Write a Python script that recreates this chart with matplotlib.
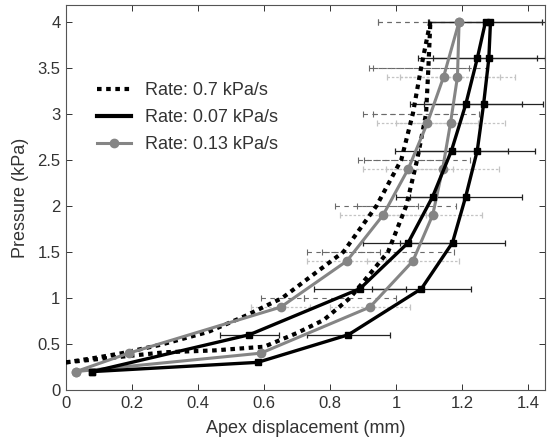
import numpy as np
import matplotlib
matplotlib.use("Agg")
import matplotlib.pyplot as plt

plt.rcParams['font.family'] = ['Liberation Sans', 'DejaVu Sans']

# ---- Rate 0.7 kPa/s (dotted) ----
r07_load_x = [0.0, 0.3, 0.45, 0.6, 0.7, 0.78, 0.86, 0.975, 1.03, 1.063, 1.09, 1.097, 1.103]
r07_load_p = [0.3, 0.41, 0.43, 0.47, 0.62, 0.76, 1.0, 1.5, 2.0, 2.5, 3.0, 3.5, 4.0]
r07_load_err = [0, 0, 0, 0, 0, 0, 0.14, 0.2, 0.15, 0.16, 0.16, 0.18, 0.16]
r07_unload_x = [1.103, 1.075, 1.05, 1.015, 0.94, 0.84, 0.655, 0.54, 0.43, 0.285, 0.17, 0.09, 0.0]
r07_unload_p = [4.0, 3.5, 3.0, 2.5, 2.0, 1.5, 1.0, 0.8, 0.63, 0.49, 0.40, 0.35, 0.3]
r07_unload_err = [0.16, 0.145, 0.15, 0.13, 0.125, 0.11, 0.065, 0, 0, 0, 0, 0, 0]

# ---- Rate 0.07 kPa/s (black, squares) ----
r007_load_x = [0.08, 0.58, 0.855, 1.076, 1.17, 1.21, 1.245, 1.264, 1.28, 1.285]
r007_load_p = [0.2, 0.3, 0.6, 1.1, 1.6, 2.1, 2.6, 3.1, 3.6, 4.0]
r007_load_err = [0, 0, 0.125, 0.15, 0.16, 0.17, 0.175, 0.18, 0.17, 0.19]
r007_unload_x = [1.27, 1.245, 1.21, 1.167, 1.11, 1.036, 0.89, 0.555, 0.08]
r007_unload_p = [4.0, 3.6, 3.1, 2.6, 2.1, 1.6, 1.1, 0.6, 0.2]
r007_unload_err = [0.17, 0.18, 0.17, 0.17, 0.11, 0.136, 0.14, 0.09, 0]

# ---- Rate 0.13 kPa/s (gray, circles) ----
r013_p = [0.2, 0.4, 0.9, 1.4, 1.9, 2.4, 2.9, 3.4, 4.0]
r013_load_x = [0.03, 0.59, 0.92, 1.05, 1.11, 1.14, 1.164, 1.185, 1.19]
r013_load_err = [0, 0, 0.12, 0.14, 0.15, 0.17, 0.166, 0.175, 0]
r013_unload_x = [0.03, 0.19, 0.65, 0.85, 0.96, 1.036, 1.094, 1.143, 1.19]
r013_unload_err = [0, 0, 0.09, 0.12, 0.13, 0.136, 0.154, 0.17, 0]

legend_labels = ['Rate: 0.7 kPa/s', 'Rate: 0.07 kPa/s', 'Rate: 0.13 kPa/s']

x_ticks = [0, 0.2, 0.4, 0.6, 0.8, 1.0, 1.2, 1.4]
x_ticklabels = ['0', '0.2', '0.4', '0.6', '0.8', '1', '1.2', '1.4']
y_ticks = [0, 0.5, 1, 1.5, 2, 2.5, 3, 3.5, 4]
y_ticklabels = ['0', '0.5', '1', '1.5', '2', '2.5', '3', '3.5', '4']

fig = plt.figure(figsize=(5.48, 4.43), dpi=100)
ax = fig.add_axes([66 / 548, 1 - 390 / 443, 479 / 548, 385 / 443])

GRAY = '#858585'
TXT = '#333333'


def bars(x, p, err, color, ls, lw):
    x = np.asarray(x, float)
    p = np.asarray(p, float)
    err = np.asarray(err, float)
    m = err > 0
    eb = ax.errorbar(x[m], p[m], xerr=err[m], fmt='none', ecolor=color,
                     elinewidth=lw, capsize=2.5, capthick=lw, zorder=1)
    for lc in eb[2]:
        lc.set_linestyle(ls)


# error bars
bars(r013_load_x, r013_p, r013_load_err, '#c4c4c4', (0, (2, 1.5)), 0.9)
bars(r013_unload_x, r013_p, r013_unload_err, '#c4c4c4', (0, (2, 1.5)), 0.9)
bars(r07_load_x, r07_load_p, r07_load_err, '#6a6a6a', (0, (4, 4)), 0.8)
bars(r07_unload_x, r07_unload_p, r07_unload_err, '#6a6a6a', (0, (4, 4)), 0.8)
bars(r007_load_x, r007_load_p, r007_load_err, '#222222', '-', 0.9)
bars(r007_unload_x, r007_unload_p, r007_unload_err, '#222222', '-', 0.9)

# curves
dot_ls = (0, (1.1, 1.1))
l1, = ax.plot(r07_load_x, r07_load_p, color='black', lw=3, ls=dot_ls, zorder=3)
ax.plot(r07_unload_x, r07_unload_p, color='black', lw=3, ls=dot_ls, zorder=3)
l3, = ax.plot(r013_load_x, r013_p, color=GRAY, lw=2.2, marker='o', ms=6,
              mfc=GRAY, mec=GRAY, zorder=4)
ax.plot(r013_unload_x, r013_p, color=GRAY, lw=2.2, marker='o', ms=6,
        mfc=GRAY, mec=GRAY, zorder=4)
l2, = ax.plot(r007_load_x, r007_load_p, color='black', lw=2.4, marker='s', ms=5,
              mfc='black', mec='black', zorder=5)
ax.plot(r007_unload_x, r007_unload_p, color='black', lw=2.4, marker='s', ms=5,
        mfc='black', mec='black', zorder=5)

ax.set_xlim(0, 1.45)
ax.set_ylim(0, 4.18)
ax.set_xticks(x_ticks)
ax.set_xticklabels(x_ticklabels)
ax.set_yticks(y_ticks)
ax.set_yticklabels(y_ticklabels)
ax.tick_params(direction='in', top=True, right=True, length=4, width=0.7,
               labelsize=12, colors=TXT, pad=4)
for s in ax.spines.values():
    s.set_color('#555555')
    s.set_linewidth(0.8)

ax.set_xlabel('Apex displacement (mm)', fontsize=13, color=TXT, labelpad=7)
ax.set_ylabel('Pressure (kPa)', fontsize=13, color=TXT, labelpad=6)

leg = ax.legend([l1, l2, l3], legend_labels, loc='upper left',
                bbox_to_anchor=(0.065, 0.80), frameon=False, fontsize=13,
                handlelength=1.85, handletextpad=0.8, labelspacing=0.55,
                borderpad=0, borderaxespad=0)
leg.legend_handles[1].set_marker('None')
leg.legend_handles[1].set_linewidth(3)
for t in leg.get_texts():
    t.set_color(TXT)

fig.savefig('out.png', dpi=100)
